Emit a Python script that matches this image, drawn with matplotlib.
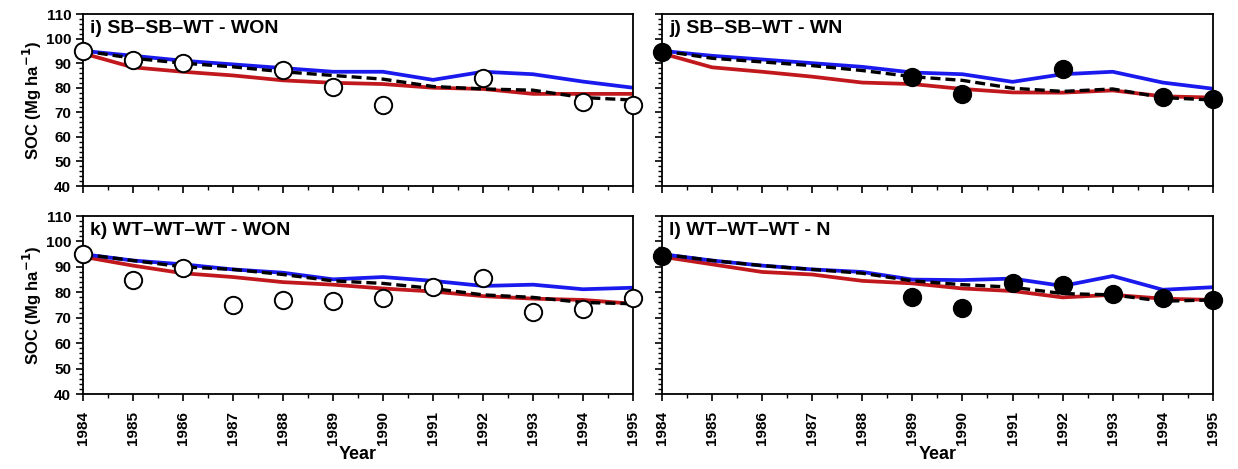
import matplotlib
matplotlib.use("Agg")
import matplotlib.pyplot as plt
from matplotlib.ticker import MultipleLocator
import numpy as np

plt.rcParams["font.family"] = ["Liberation Sans", "DejaVu Sans"]
plt.rcParams["font.weight"] = "bold"

years = np.arange(1984, 1996)

# ---- panel i) SB-SB-WT - WON -------------------------------------------
i_obs_x = [1984, 1985, 1986, 1988, 1989, 1990, 1992, 1994, 1995]
i_obs_y = [95.0, 91.4, 90.0, 87.3, 80.5, 72.9, 83.8, 74.3, 72.8]
i_blue = [95, 93, 91, 89.5, 88, 86.5, 86.5, 83.2, 86.5, 85.5, 82.5, 80]
i_red = [94, 88.3, 86.5, 85, 83, 82, 81.5, 80, 79.5, 77.5, 77.5, 77.5]
i_black = [95, 92, 90, 88.5, 86.5, 85, 83.5, 80.5, 79.5, 79, 76, 75]

# ---- panel j) SB-SB-WT - WN --------------------------------------------
j_obs_x = [1984, 1989, 1990, 1992, 1994, 1995]
j_obs_y = [94.4, 84.2, 77.6, 87.8, 76.4, 75.6]
j_blue = [95, 93, 91.5, 90, 88.5, 86.2, 85.5, 82.4, 85.5, 86.5, 82.1, 79.6]
j_red = [94, 88.3, 86.5, 84.5, 82.1, 81.5, 79.5, 78.1, 78, 78.9, 76.5, 76]
j_black = [95, 92, 90.5, 89, 87, 84.5, 83, 79.8, 78.5, 79.5, 76, 75]

# ---- panel k) WT-WT-WT - WON -------------------------------------------
k_obs_x = list(range(1984, 1996))
k_obs_y = [95.0, 85.0, 89.7, 74.9, 77.0, 76.4, 77.9, 81.9, 85.8, 72.3, 73.6, 77.7]
k_blue = [95, 92.5, 91, 89, 87.7, 85.1, 86, 84.5, 82.5, 83, 81.2, 81.8]
k_red = [94, 90.5, 87.5, 86, 84, 83, 81.5, 80.3, 78.5, 77.5, 77, 75.5]
k_black = [95, 92.5, 90, 89, 87, 84.5, 83.5, 81.5, 79, 78, 76, 75.5]

# ---- panel l) WT-WT-WT - N ---------------------------------------------
l_obs_x = [1984, 1989, 1990, 1991, 1992, 1993, 1994, 1995]
l_obs_y = [94.3, 78.3, 74.0, 83.8, 82.8, 79.2, 77.9, 77.0]
l_blue = [95, 92.5, 90.5, 89, 88, 85, 84.8, 85.4, 82.5, 86.4, 81, 82]
l_red = [94, 91, 88, 87, 84.5, 83.5, 81.5, 80.5, 78, 79, 77.5, 77]
l_black = [95, 92.5, 90.5, 89, 87.5, 84.5, 83, 82, 79.5, 79, 76.5, 77]

panels = [
    ("i) SB\u2013SB\u2013WT - WON", i_obs_x, i_obs_y, i_blue, i_red, i_black, "white"),
    ("j) SB\u2013SB\u2013WT - WN", j_obs_x, j_obs_y, j_blue, j_red, j_black, "black"),
    ("k) WT\u2013WT\u2013WT - WON", k_obs_x, k_obs_y, k_blue, k_red, k_black, "white"),
    ("l) WT\u2013WT\u2013WT - N", l_obs_x, l_obs_y, l_blue, l_red, l_black, "black"),
]

fig = plt.figure(figsize=(12.38, 4.69), dpi=100)

# axes rectangles in figure fractions (left, bottom, width, height)
rects = [
    (0.0670, 0.6034, 0.4443, 0.3667),
    (0.5347, 0.6034, 0.4450, 0.3667),
    (0.0670, 0.1599, 0.4443, 0.3795),
    (0.5347, 0.1599, 0.4450, 0.3795),
]

for idx, (title, ox, oy, blue, red, black, face) in enumerate(panels):
    ax = fig.add_axes(rects[idx])
    ax.plot(years, red, color="#c0181c", lw=2.7, zorder=2)
    ax.plot(years, blue, color="#1a1aee", lw=2.7, zorder=2)
    ax.plot(years, black, color="black", lw=2.4, ls=(0, (3, 1.5)), zorder=3)
    ax.plot(ox, oy, ls="none", marker="o", ms=12.5, mfc=face,
            mec="black", mew=1.4, zorder=4, clip_on=False)

    ax.set_xlim(1984, 1995)
    ax.set_ylim(40, 110)
    ax.xaxis.set_major_locator(MultipleLocator(1))
    ax.xaxis.set_minor_locator(MultipleLocator(0.5))
    ax.yaxis.set_major_locator(MultipleLocator(10))
    ax.yaxis.set_minor_locator(MultipleLocator(2))
    ax.tick_params(which="major", direction="out", length=5, width=1.2,
                   labelsize=11)
    ax.tick_params(which="minor", direction="out", length=3, width=1.0)
    for sp in ax.spines.values():
        sp.set_linewidth(1.3)

    ax.text(0.013, 0.965, title, transform=ax.transAxes, fontsize=14,
            fontweight="bold", va="top", ha="left")

    if idx % 2 == 0:
        ax.set_ylabel("SOC (Mg ha$^{\\mathbf{-1}}$)", fontsize=12,
                      fontweight="bold", labelpad=1)
    else:
        ax.tick_params(axis="y", labelleft=False)

    if idx < 2:
        ax.tick_params(axis="x", labelbottom=False)
    else:
        ax.set_xticks(years)
        ax.set_xticklabels([str(y) for y in years], rotation=90)
        ax.tick_params(axis="x", which="major", pad=7)
        ax.set_xlabel("Year", fontsize=13, fontweight="bold", labelpad=1)

fig.savefig("out.png", dpi=100)
